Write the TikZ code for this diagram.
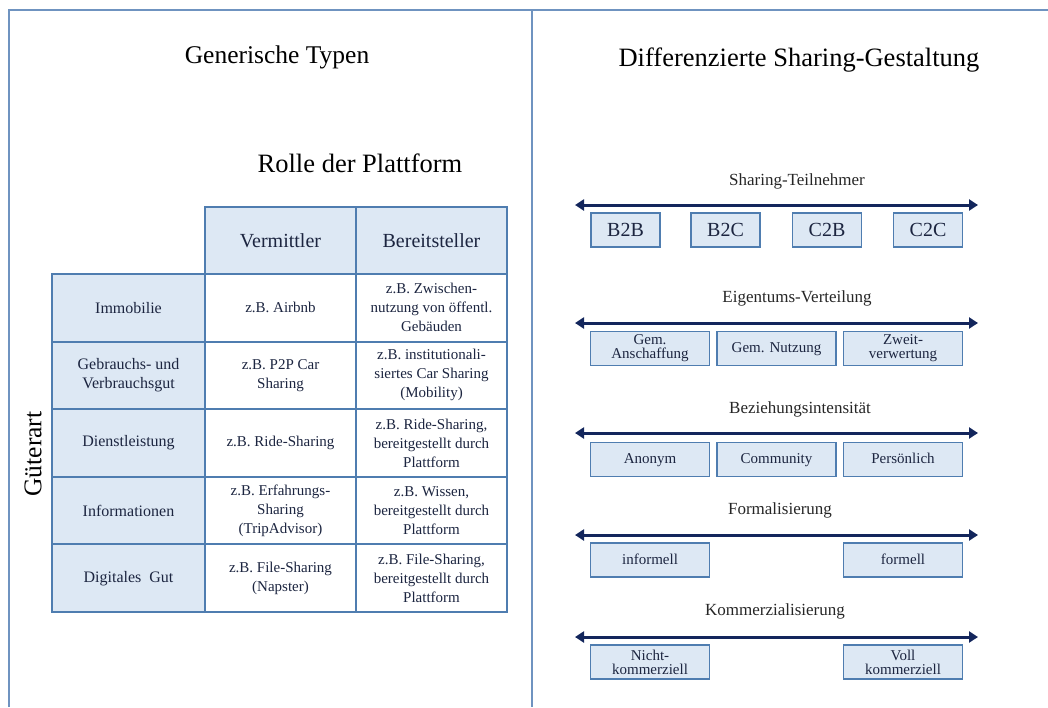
\documentclass[tikz,border=0pt]{standalone}
\usepackage{fontspec}
\setmainfont{Liberation Serif}
\usetikzlibrary{arrows.meta}

\definecolor{framecol}{HTML}{6F93C0}
\definecolor{gridcol}{HTML}{4F7DB0}
\definecolor{cellfill}{HTML}{DDE8F4}
\definecolor{arrowcol}{HTML}{13265C}
\definecolor{inkcol}{HTML}{1C2540}

\tikzset{
  headcell/.style={draw=gridcol, line width=2pt, fill=cellfill, minimum width=151pt,
    minimum height=67.6pt, outer sep=0pt, inner sep=2pt, align=center, text=inkcol,
    font=\fontsize{20}{22}\selectfont},
  rowcell/.style={headcell, minimum width=153pt, font=\fontsize{16}{19}\selectfont},
  bodycell/.style={headcell, fill=white, font=\fontsize{15}{19}\selectfont},
  optbox/.style={draw=gridcol, line width=1.8pt, fill=cellfill, minimum height=34pt,
    inner sep=0pt, align=center, text=inkcol, font=\fontsize{15}{14}\selectfont},
  onebox/.style={optbox, text height=10pt, text depth=1.5pt},
  dimarrow/.style={arrowcol, line width=3pt,
    {Triangle[length=9pt,width=11pt]}-{Triangle[length=9pt,width=11pt]}},
  dimlabel/.style={text=black!85, font=\fontsize{17}{19}\selectfont},
  paneltitle/.style={font=\fontsize{25.5}{27}\selectfont}
}

\begin{document}
\begin{tikzpicture}[x=1pt, y=-1pt]
  \useasboundingbox (0,0) rectangle (1048,707);

  % Frame
  \draw[framecol, line width=1.5pt] (9,707) -- (9,10) -- (1048,10);
  \draw[framecol, line width=1.5pt] (532,10) -- (532,707);

  % Titles
  \node[paneltitle] (tleft) at (277,57) {Generische Typen};
  \node[paneltitle, font=\fontsize{26.5}{28}\selectfont] (tright) at (799,60) {Differenzierte Sharing-Gestaltung};
  \node[paneltitle, font=\fontsize{26.5}{28}\selectfont] (trolle) at (360,163) {Rolle der Plattform};
  \node[paneltitle, rotate=90] (tgut) at (33,454) {Güterart};

  % Table header
  \node[headcell] (hverm) at (280.5,240.5) {Vermittler};
  \node[headcell] (hbereit) at (431.5,240.5) {Bereitsteller};

  % Table rows (Güterart)
  \node[rowcell] (rimmo) at (128.5,307.8) {Immobilie};
  \node[rowcell] (rgebr) at (128.5,375.4) {Gebrauchs- und\\Verbrauchsgut};
  \node[rowcell] (rdienst) at (128.5,443) {Dienstleistung};
  \node[rowcell] (rinfo) at (128.5,510.6) {Informationen};
  \node[rowcell] (rdigi) at (128.5,578.2) {Digitales\ \ Gut};

  % Table body
  \node[bodycell] (vimmo) at (280.5,307.8) {z.B. Airbnb};
  \node[bodycell] (bimmo) at (431.5,307.8) {z.B. Zwischen-\\nutzung von öffentl.\\Gebäuden};
  \node[bodycell] (vgebr) at (280.5,375.4) {z.B. P2P Car\\Sharing};
  \node[bodycell] (bgebr) at (431.5,375.4) {z.B. institutionali-\\siertes Car Sharing\\(Mobility)};
  \node[bodycell] (vdienst) at (280.5,443) {z.B. Ride-Sharing};
  \node[bodycell] (bdienst) at (431.5,443) {z.B. Ride-Sharing,\\bereitgestellt durch\\Plattform};
  \node[bodycell] (vinfo) at (280.5,510.6) {z.B. Erfahrungs-\\Sharing\\(TripAdvisor)};
  \node[bodycell] (binfo) at (431.5,510.6) {z.B. Wissen,\\bereitgestellt durch\\Plattform};
  \node[bodycell] (vdigi) at (280.5,578.2) {z.B. File-Sharing\\(Napster)};
  \node[bodycell] (bdigi) at (431.5,578.2) {z.B. File-Sharing,\\bereitgestellt durch\\Plattform};

  % Sharing-Teilnehmer
  \node[dimlabel] (lteil) at (797,181) {Sharing-Teilnehmer};
  \coordinate (teilL) at (575,205);
  \coordinate (teilR) at (978,205);
  \draw[dimarrow] (teilL) -- (teilR);
  \node[onebox, minimum width=69pt, font=\fontsize{20}{22}\selectfont, text height=13.5pt, text depth=1pt] (bb) at (625.5,230) {B2B};
  \node[onebox, minimum width=69pt, font=\fontsize{20}{22}\selectfont, text height=13.5pt, text depth=1pt] (bc) at (725.5,230) {B2C};
  \node[onebox, minimum width=69pt, font=\fontsize{20}{22}\selectfont, text height=13.5pt, text depth=1pt] (cb) at (827,230) {C2B};
  \node[onebox, minimum width=69pt, font=\fontsize{20}{22}\selectfont, text height=13.5pt, text depth=1pt] (cc) at (928,230) {C2C};

  % Eigentums-Verteilung
  \node[dimlabel] (leig) at (797,298) {Eigentums-Verteilung};
  \coordinate (eigL) at (575,323);
  \coordinate (eigR) at (978,323);
  \draw[dimarrow] (eigL) -- (eigR);
  \node[optbox, minimum width=119pt] (anschaff) at (650,348.5) {Gem.\\Anschaffung};
  \node[onebox, minimum width=119pt] (nutzung) at (776.5,348.5) {Gem. Nutzung};
  \node[optbox, minimum width=119pt] (zweit) at (903,348.5) {Zweit-\\verwertung};

  % Beziehungsintensitaet
  \node[dimlabel] (lbez) at (800,409) {Beziehungsintensität};
  \coordinate (bezL) at (575,433);
  \coordinate (bezR) at (978,433);
  \draw[dimarrow] (bezL) -- (bezR);
  \node[onebox, minimum width=119pt] (anonym) at (650,459.5) {Anonym};
  \node[onebox, minimum width=119pt] (commu) at (776.5,459.5) {Community};
  \node[onebox, minimum width=119pt] (persoen) at (903,459.5) {Persönlich};

  % Formalisierung
  \node[dimlabel] (lform) at (780,510) {Formalisierung};
  \coordinate (formL) at (575,535);
  \coordinate (formR) at (978,535);
  \draw[dimarrow] (formL) -- (formR);
  \node[onebox, minimum width=119pt] (informell) at (650,560) {informell};
  \node[onebox, minimum width=119pt] (formell) at (903,560) {formell};

  % Kommerzialisierung
  \node[dimlabel] (lkomm) at (775,611) {Kommerzialisierung};
  \coordinate (kommL) at (575,637);
  \coordinate (kommR) at (978,637);
  \draw[dimarrow] (kommL) -- (kommR);
  \node[optbox, minimum width=119pt] (nichtk) at (650,662) {Nicht-\\kommerziell};
  \node[optbox, minimum width=119pt] (vollk) at (903,662) {Voll\\kommerziell};
\end{tikzpicture}
\end{document}
